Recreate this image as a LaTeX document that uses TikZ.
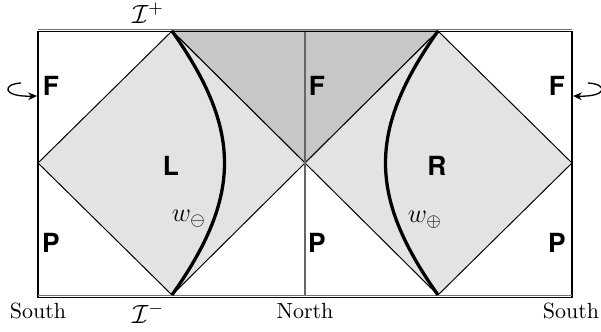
\documentclass[tikz,border=0pt]{standalone}
\usepackage{fontspec}
\setsansfont{TeX Gyre Heros}
\usetikzlibrary{arrows.meta,positioning}

\begin{document}
\begin{tikzpicture}[
  x=0.016cm, y=-0.016cm,
  >={Stealth[length=4pt, width=3.5pt]},
  region/.style={font=\large\sffamily\bfseries, inner sep=1pt},
  wedge/.style={fill=black!11, draw=black, line width=0.45pt},
  future/.style={fill=black!22, draw=black, line width=0.45pt},
  scri/.style={draw=black!55, line width=0.8pt},
  border/.style={draw=black, line width=0.7pt},
  axis/.style={draw=black!60, line width=0.6pt},
  worldline/.style={draw=black, line width=1.5pt},
  twist/.style={->, line width=0.6pt},
  pole/.style={font=\normalsize, inner sep=1pt},
]
\useasboundingbox (0,0) rectangle (601,331);

% vertices of the two wedges
\coordinate (tl) at (172,31);
\coordinate (tr) at (438,31);
\coordinate (bl) at (172,295);
\coordinate (br) at (438,295);
\coordinate (wl) at (38,163);
\coordinate (c)  at (305,163);
\coordinate (wr) at (572,163);
\coordinate (tn) at (305,31);
\coordinate (bn) at (305,296);

% shaded regions
\filldraw[future] (tl) -- (c) -- (tr) -- cycle;
\filldraw[wedge] (tl) -- (wl) -- (bl) -- (c) -- cycle;
\filldraw[wedge] (tr) -- (c) -- (br) -- (wr) -- cycle;
\draw[axis] (tn) -- (bn);

% frame and null infinity
\coordinate (sw) at (38,297.5);
\coordinate (ne) at (572,31.5);
\draw[border] (sw) rectangle (ne);
\coordinate (scrip-a) at (38,29.5);
\coordinate (scrip-b) at (572,29.5);
\coordinate (scrim-a) at (38,295.5);
\coordinate (scrim-b) at (572,295.5);
\draw[scri] (scrip-a) -- (scrip-b);
\draw[scri] (scrim-a) -- (scrim-b);

% accelerated worldlines
\draw[worldline] (tl) .. controls (242,130) and (242,196) .. (bl);
\draw[worldline] (tr) .. controls (368,130) and (368,196) .. (br);

% region labels
\node[region] (fa) at (51,86)  {F};
\node[region] (fb) at (317,86) {F};
\node[region] (fc) at (557,86) {F};
\node[region] (pa) at (51,243)  {P};
\node[region] (pb) at (317,243) {P};
\node[region] (pc) at (557,243) {P};
\node[region] (lw) at (171,166) {L};
\node[region] (rw) at (437,166) {R};
\node[font=\large] (wm) at (189,219) {$w_\ominus$};
\node[font=\large] (wp) at (425,220) {$w_\oplus$};

% infinity and poles
\node[pole, font=\large] (ip) at (148,13)  {$\mathcal{I}^+$};
\node[pole, font=\large] (im) at (148,313) {$\mathcal{I}^-$};
\node[pole] (s1) at (38,311)  {South};
\node[pole] (n1) at (305,311) {North};
\node[pole] (s2) at (571,311) {South};

% identification twists
\coordinate (la) at (21,83);
\coordinate (lb) at (37,96);
\coordinate (ra) at (588,83);
\coordinate (rb) at (573,96);
\draw[twist] (la) .. controls (2,84) and (2,97) .. (lb);
\draw[twist] (ra) .. controls (608,84) and (608,97) .. (rb);

\end{tikzpicture}
\end{document}
